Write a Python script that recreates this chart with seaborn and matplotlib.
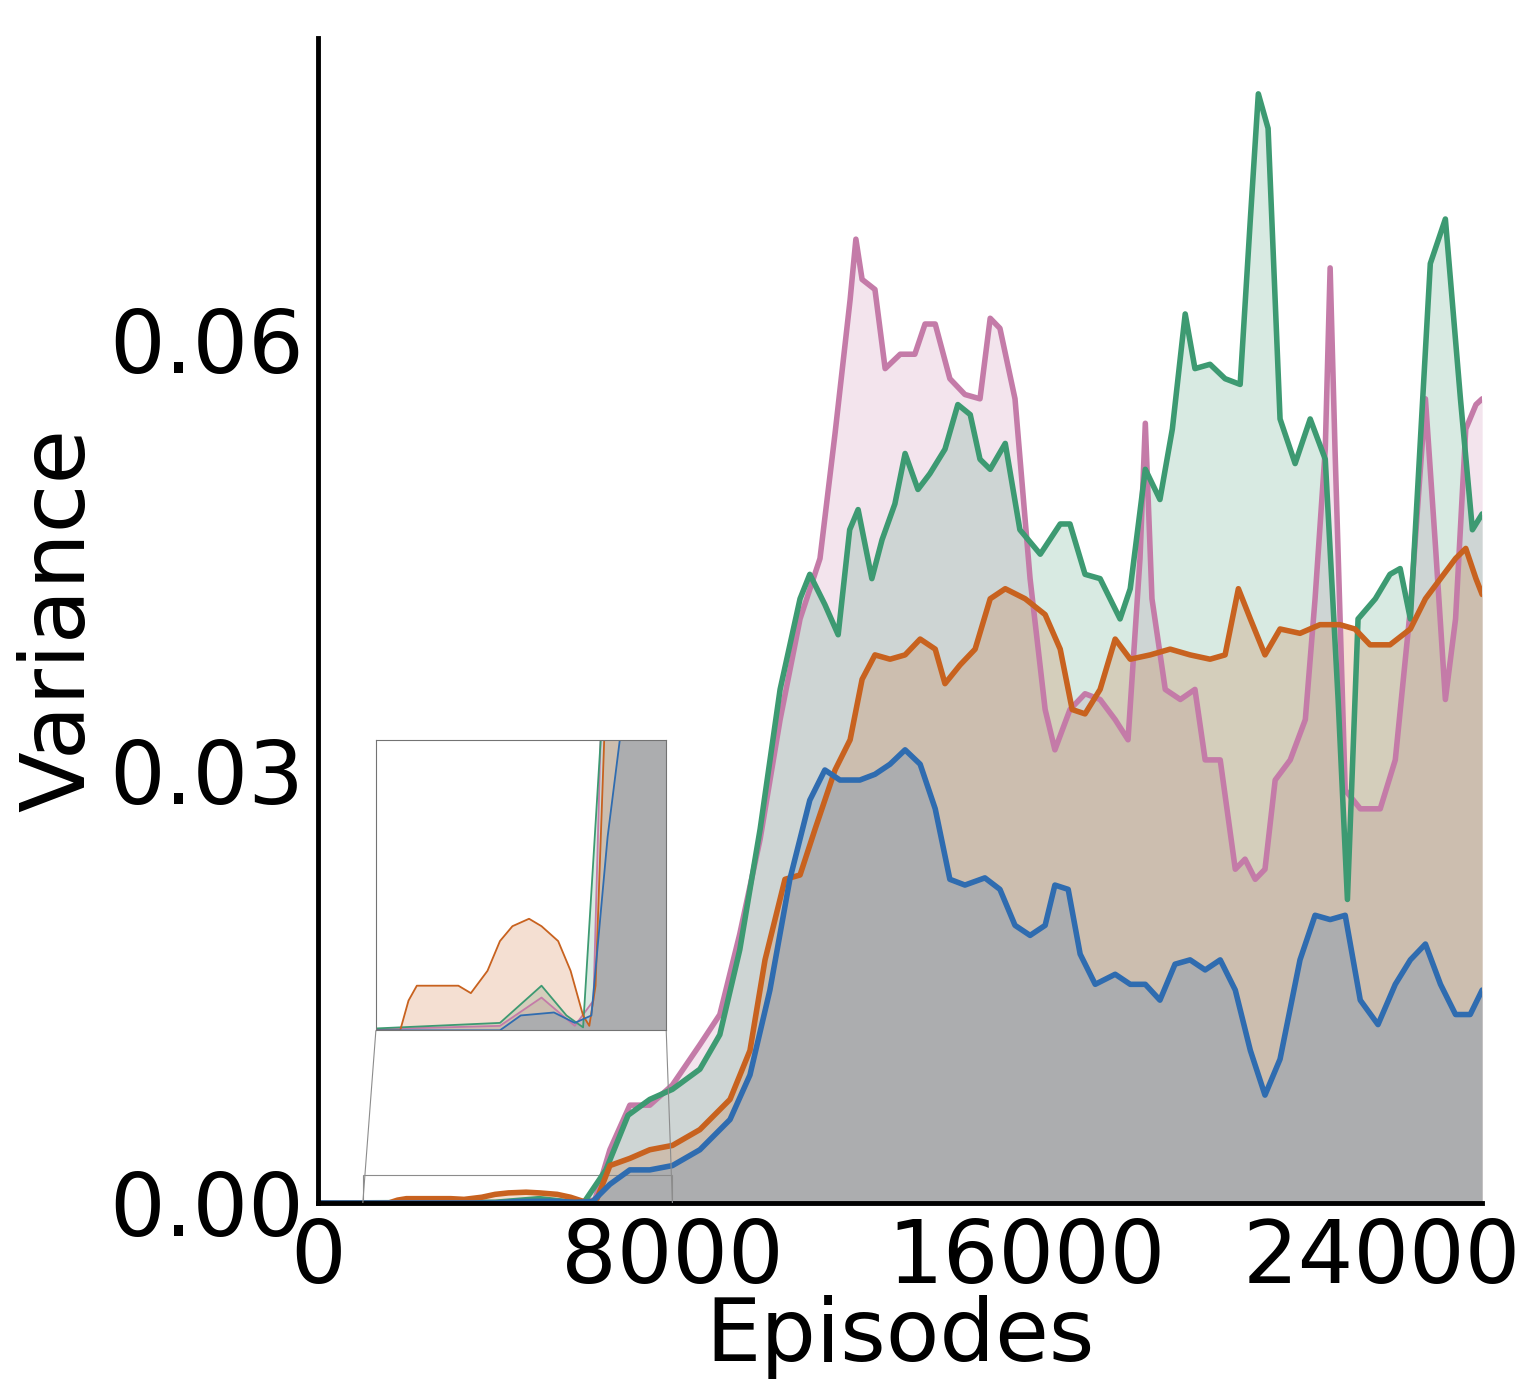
import numpy as np
import pandas as pd
import seaborn as sns
import matplotlib.pyplot as plt
from mpl_toolkits.axes_grid1.inset_locator import mark_inset

# Series (episode, variance)
pink_x = [0, 4000, 5000, 5800, 6250, 6590, 7040, 7490, 8000, 8620, 9070, 9520, 9980, 10430, 10880, 11330, 11670, 12010, 12140, 12280, 12570, 12800, 13140, 13470, 13700, 13930, 14260, 14600, 14940, 15170, 15390, 15730, 16070, 16410, 16630, 16970, 17310, 17650, 17990, 18280, 18550, 18670, 18820, 19120, 19460, 19790, 20020, 20360, 20700, 20920, 21150, 21370, 21600, 21940, 22280, 22500, 22730, 22840, 22950, 23180, 23520, 23970, 24310, 24650, 24990, 25220, 25440, 25670, 25900, 26130, 26270]
pink_y = [0, 0.00003, 0.00022, 0.00003, 0.0002, 0.0037, 0.0068, 0.0068, 0.0082, 0.011, 0.0131, 0.0187, 0.0253, 0.0336, 0.0406, 0.0448, 0.0535, 0.0628, 0.067, 0.0642, 0.0635, 0.058, 0.059, 0.059, 0.0611, 0.0611, 0.0573, 0.0562, 0.0559, 0.0615, 0.0608, 0.0559, 0.0434, 0.0343, 0.0315, 0.0343, 0.0354, 0.035, 0.0336, 0.0322, 0.0448, 0.0542, 0.042, 0.0357, 0.035, 0.0357, 0.0308, 0.0308, 0.0232, 0.0239, 0.0225, 0.0232, 0.0294, 0.0308, 0.0336, 0.042, 0.0524, 0.065, 0.0524, 0.0287, 0.0274, 0.0274, 0.0308, 0.0413, 0.0559, 0.0455, 0.035, 0.0406, 0.0538, 0.0555, 0.0559]

green_x = [0, 4000, 5000, 5600, 6000, 6500, 7000, 7490, 8000, 8620, 9070, 9520, 9980, 10430, 10880, 11100, 11440, 11740, 12000, 12190, 12500, 12730, 13020, 13250, 13540, 13810, 14150, 14440, 14720, 14940, 15170, 15510, 15840, 16300, 16750, 16970, 17310, 17650, 18100, 18330, 18670, 19000, 19280, 19570, 19790, 20130, 20470, 20810, 21040, 21220, 21440, 21710, 22050, 22390, 22730, 23020, 23230, 23470, 23860, 24190, 24420, 24650, 25100, 25440, 25780, 26050, 26270]
green_y = [0, 0.00005, 0.0003, 0.0001, 0.00002, 0.0023, 0.0061, 0.0072, 0.0079, 0.0093, 0.0117, 0.0176, 0.026, 0.0357, 0.042, 0.0437, 0.0416, 0.0395, 0.0468, 0.0482, 0.0434, 0.0461, 0.0486, 0.0521, 0.0496, 0.0507, 0.0524, 0.0555, 0.0548, 0.0517, 0.051, 0.0528, 0.0468, 0.0451, 0.0472, 0.0472, 0.0437, 0.0434, 0.0406, 0.0427, 0.051, 0.0489, 0.0538, 0.0618, 0.058, 0.0583, 0.0573, 0.0569, 0.0684, 0.0771, 0.0747, 0.0545, 0.0514, 0.0545, 0.0517, 0.035, 0.0211, 0.0406, 0.042, 0.0437, 0.0441, 0.0406, 0.0653, 0.0684, 0.0559, 0.0468, 0.0479]

orange_x = [0, 1600, 1800, 2000, 3000, 3300, 3700, 4000, 4300, 4700, 5000, 5400, 5700, 6000, 6150, 6300, 6590, 7040, 7490, 8000, 8620, 9300, 9750, 10090, 10540, 10880, 11220, 11670, 12010, 12280, 12570, 12910, 13250, 13590, 13930, 14150, 14490, 14830, 15170, 15510, 15960, 16410, 16750, 17020, 17310, 17650, 17990, 18330, 18780, 19230, 19680, 20130, 20470, 20770, 21040, 21370, 21710, 22160, 22610, 23060, 23400, 23740, 24190, 24650, 24990, 25330, 25670, 25900, 26130, 26270]
orange_y = [0, 0, 0.0002, 0.0003, 0.0003, 0.00025, 0.0004, 0.0006, 0.0007, 0.00075, 0.0007, 0.0006, 0.0004, 0.0001, 0.00003, 0.0003, 0.0026, 0.0031, 0.0037, 0.004, 0.0051, 0.0072, 0.0106, 0.0169, 0.0225, 0.0228, 0.026, 0.0301, 0.0322, 0.0364, 0.0381, 0.0378, 0.0381, 0.0392, 0.0385, 0.0361, 0.0374, 0.0385, 0.042, 0.0427, 0.042, 0.0409, 0.0385, 0.0343, 0.034, 0.0357, 0.0392, 0.0378, 0.0381, 0.0385, 0.0381, 0.0378, 0.0381, 0.0427, 0.0406, 0.0381, 0.0399, 0.0396, 0.0402, 0.0402, 0.0399, 0.0388, 0.0388, 0.0399, 0.042, 0.0434, 0.0448, 0.0455, 0.0434, 0.0423]

blue_x = [0, 4000, 4500, 5300, 5800, 6200, 6590, 7040, 7490, 8000, 8620, 9300, 9750, 10200, 10650, 11100, 11440, 11780, 12230, 12570, 12910, 13250, 13590, 13930, 14260, 14600, 15050, 15390, 15730, 16070, 16410, 16630, 16930, 17200, 17540, 17990, 18330, 18670, 19000, 19340, 19680, 20020, 20360, 20700, 21040, 21370, 21710, 22160, 22500, 22840, 23180, 23520, 23920, 24310, 24650, 24990, 25330, 25670, 26000, 26270]
blue_y = [0, 0, 0.0001, 0.00012, 0.00005, 0.0001, 0.0013, 0.0023, 0.0023, 0.0026, 0.0037, 0.0058, 0.0089, 0.0148, 0.0225, 0.028, 0.0301, 0.0294, 0.0294, 0.0298, 0.0305, 0.0315, 0.0305, 0.0274, 0.0225, 0.0221, 0.0226, 0.0218, 0.0193, 0.0186, 0.0193, 0.0221, 0.0218, 0.0173, 0.0152, 0.0159, 0.0152, 0.0152, 0.0141, 0.0166, 0.0169, 0.0162, 0.0169, 0.0148, 0.0106, 0.0075, 0.01, 0.0169, 0.02, 0.0197, 0.02, 0.0141, 0.0124, 0.0152, 0.0169, 0.018, 0.0152, 0.0131, 0.0131, 0.0148]

series = [
    ('pink', pink_x, pink_y, '#c47ba8'),
    ('green', green_x, green_y, '#3d9a72'),
    ('orange', orange_x, orange_y, '#c8621f'),
    ('blue', blue_x, blue_y, '#2f6cb0'),
]

sns.set_style('white')
plt.rcParams['font.family'] = ['DejaVu Sans']
plt.rcParams['text.color'] = 'black'
plt.rcParams['axes.labelcolor'] = 'black'
plt.rcParams['xtick.color'] = 'black'
plt.rcParams['ytick.color'] = 'black'

fig = plt.figure(figsize=(15.28, 13.98), dpi=100)
ax = fig.add_axes([0.208, 0.1395, 0.762, 0.8335])
axins = fig.add_axes([0.246, 0.263, 0.190, 0.2075])

for name, xs, ys, c in series:
    df = pd.DataFrame({'Episodes': xs, 'Variance': ys})
    for a, lw in ((ax, 4), (axins, 1.3)):
        a.fill_between(df['Episodes'], 0, df['Variance'], color=c, alpha=0.2, lw=0)
        sns.lineplot(data=df, x='Episodes', y='Variance', ax=a, color=c, lw=lw)

ax.set_xlim(0, 26270)
ax.set_ylim(0, 0.081)
ax.set_xticks([0, 8000, 16000, 24000])
ax.set_yticks([0.0, 0.03, 0.06])
ax.set_yticklabels(['0.00', '0.03', '0.06'])
ax.tick_params(labelsize=63, width=3, length=8, pad=2)
ax.set_xlabel('Episodes', fontsize=63, labelpad=-4)
ax.set_ylabel('Variance', fontsize=64, labelpad=4)
sns.despine(ax=ax)
for s in ('left', 'bottom'):
    ax.spines[s].set_linewidth(3.5)
    ax.spines[s].set_color('black')

axins.set_xlim(1015, 8000)
axins.set_ylim(0, 0.00195)
axins.set_xticks([])
axins.set_yticks([])
axins.set_xlabel('')
axins.set_ylabel('')
for s in axins.spines.values():
    s.set_linewidth(0.8)
    s.set_color('0.45')
mark_inset(ax, axins, loc1=3, loc2=4, fc='none', ec='0.55', lw=0.8)

fig.savefig('out.png', dpi=100)
